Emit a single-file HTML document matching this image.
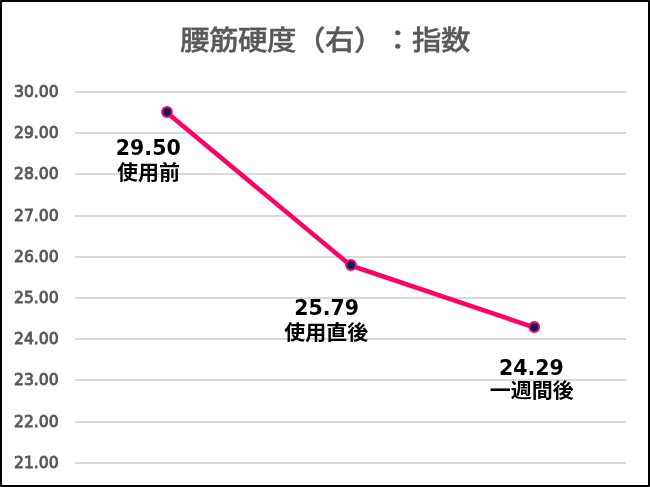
<!DOCTYPE html>
<html lang="ja">
<head>
<meta charset="utf-8">
<title>腰筋硬度（右）：指数</title>
<style>
html,body{margin:0;padding:0;background:#fff;}
body{width:650px;height:487px;overflow:hidden;position:relative;}
.frame{position:absolute;left:0;top:0;width:646px;height:483px;border:2px solid #000;border-radius:1px;}
svg{position:absolute;left:0;top:0;}
.title{font-family:"Liberation Sans","Noto Sans CJK JP",sans-serif;font-size:29.5px;font-weight:500;fill:#595959;stroke:#595959;stroke-width:0.4px;text-spacing-trim:space-all;}
.ax{font-family:"DejaVu Sans",sans-serif;font-size:15.6px;fill:#595959;stroke:#595959;stroke-width:0.85px;}
.num{font-family:"DejaVu Sans","Noto Sans CJK JP",sans-serif;font-weight:bold;font-size:20.5px;fill:#000;}
.jp{font-family:"Liberation Sans","Noto Sans CJK JP",sans-serif;font-weight:bold;font-size:21px;fill:#000;}
</style>
</head>
<body>
<div class="frame"></div>
<svg width="650" height="487" viewBox="0 0 650 487">
  <g stroke="#d9d9d9" stroke-width="2">
    <line x1="75" y1="92" x2="626" y2="92"/>
    <line x1="75" y1="133" x2="626" y2="133"/>
    <line x1="75" y1="174" x2="626" y2="174"/>
    <line x1="75" y1="216" x2="626" y2="216"/>
    <line x1="75" y1="257" x2="626" y2="257"/>
    <line x1="75" y1="298" x2="626" y2="298"/>
    <line x1="75" y1="339" x2="626" y2="339"/>
    <line x1="75" y1="380" x2="626" y2="380"/>
    <line x1="75" y1="422" x2="626" y2="422"/>
    <line x1="75" y1="463" x2="626" y2="463"/>
  </g>
  <g class="ax" text-anchor="end">
    <text x="58.7" y="96.9">30.00</text>
    <text x="58.7" y="137.9">29.00</text>
    <text x="58.7" y="178.9">28.00</text>
    <text x="58.7" y="220.9">27.00</text>
    <text x="58.7" y="261.9">26.00</text>
    <text x="58.7" y="302.9">25.00</text>
    <text x="58.7" y="343.9">24.00</text>
    <text x="58.7" y="384.9">23.00</text>
    <text x="58.7" y="426.9">22.00</text>
    <text x="58.7" y="467.9">21.00</text>
  </g>
  <polyline points="166.8,112.6 350.7,265.5 534.2,327.4" fill="none" stroke="#ff0066" stroke-width="4.5" stroke-linejoin="round"/>
  <g fill="#002060" stroke="#ff0066" stroke-width="2">
    <circle cx="167" cy="112" r="4.9"/>
    <circle cx="351" cy="265" r="4.9"/>
    <circle cx="534.2" cy="327" r="4.9"/>
  </g>
  <text class="title" transform="matrix(1 0 0 0.94 0 3.15)" x="180.0 209.0 238.0 267.0 296.0 325.0 354.0 383.0 412.0 441.0" y="50">腰筋硬度（右）：指数</text>
  <g text-anchor="middle">
    <text class="num" x="148.25" y="154.8">29.50</text>
    <text class="jp" x="148.5" y="179.5" transform="matrix(1 0 0 0.95 0 9.100)">使用前</text>
    <text class="num" x="326.6" y="314.8">25.79</text>
    <text class="jp" x="326.3" y="340" transform="matrix(1 0 0 0.95 0 17.125)">使用直後</text>
    <text class="num" x="531.3" y="374.7">24.29</text>
    <text class="jp" x="531.7" y="398" transform="matrix(1 0 0 0.95 0 20.025)">一週間後</text>
  </g>
</svg>
</body>
</html>
